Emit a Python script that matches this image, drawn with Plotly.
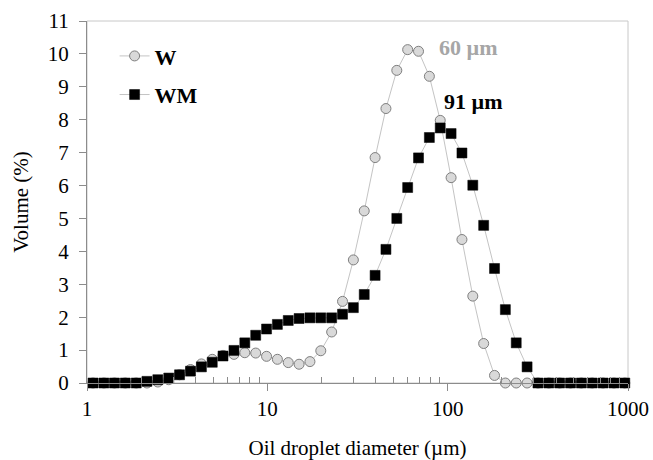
import plotly.graph_objects as go

# Droplet size classes (µm)
diameter = [1.08, 1.24, 1.42, 1.63, 1.875, 2.15, 2.47, 2.84, 3.26, 3.75,
            4.31, 4.95, 5.68, 6.53, 7.5, 8.62, 9.90, 11.37, 13.06, 15.0,
            17.23, 19.79, 22.74, 26.12, 30.0, 34.46, 39.59, 45.47, 52.23, 60.0,
            68.92, 79.17, 90.94, 104.47, 120.0, 137.84, 158.34, 181.89, 208.93, 240.0,
            275.69, 316.68, 363.77, 417.87, 480.0, 551.37, 633.36, 727.54, 835.74, 960.0]

vol_W = [0, 0, 0, 0, 0, 0, 0.03, 0.1, 0.25, 0.41,
         0.58, 0.72, 0.84, 0.87, 0.92, 0.91, 0.81, 0.72, 0.62, 0.57,
         0.65, 0.98, 1.55, 2.48, 3.74, 5.23, 6.85, 8.34, 9.50, 10.13,
         10.08, 9.32, 7.98, 6.24, 4.36, 2.64, 1.20, 0.23, 0, 0,
         0, 0, 0, 0, 0, 0, 0, 0, 0, 0]

vol_WM = [0, 0, 0, 0, 0, 0.05, 0.1, 0.15, 0.25, 0.36,
          0.49, 0.63, 0.82, 0.99, 1.22, 1.45, 1.64, 1.78, 1.90, 1.96,
          1.98, 1.98, 1.98, 2.09, 2.29, 2.69, 3.27, 4.06, 5.00, 5.94,
          6.84, 7.46, 7.75, 7.58, 6.99, 6.01, 4.79, 3.48, 2.23, 1.22,
          0.49, 0, 0, 0, 0, 0, 0, 0, 0, 0]

x_ticks = [1, 10, 100, 1000]
x_minor = [m * d for d in (1, 10, 100) for m in range(2, 10)]
y_ticks = list(range(0, 12))

FONT = "Liberation Serif, Times New Roman, serif"
AXC = "#8c8c8c"

fig = go.Figure()
fig.add_trace(go.Scatter(
    x=diameter, y=vol_W, mode="lines+markers", name="W", legendgroup="W",
    line=dict(color="#c4c4c4", width=1),
    marker=dict(symbol="circle", size=10, color="#d9d9d9",
                line=dict(color="#7f7f7f", width=1)),
    cliponaxis=False))
fig.add_trace(go.Scatter(
    x=diameter, y=vol_WM, mode="lines+markers", name="WM", legendgroup="WM",
    line=dict(color="#c4c4c4", width=1),
    marker=dict(symbol="square", size=10, color="#000000",
                line=dict(color="#000000", width=0.5)),
    cliponaxis=False))

fig.add_annotation(x=1.94, y=10.2, xref="x", yref="y", text="<b>60 µm</b>",
                   showarrow=False, xanchor="left", yanchor="middle",
                   font=dict(family=FONT, size=22, color="#a6a6a6"))
fig.add_annotation(x=1.97, y=8.55, xref="x", yref="y", text="<b>91 µm</b>",
                   showarrow=False, xanchor="left", yanchor="middle",
                   font=dict(family=FONT, size=22, color="#000000"))

# plot frame (top/right lighter)
fig.add_shape(type="rect", xref="paper", yref="paper", x0=0, y0=0, x1=1, y1=1,
              line=dict(color="#c8c8c8", width=1), layer="below")

fig.update_layout(
    width=653, height=460,
    margin=dict(l=87, r=25, t=21, b=77),
    paper_bgcolor="white", plot_bgcolor="white",
    font=dict(family=FONT, size=21, color="#000000"),
    showlegend=True,
    legend=dict(x=0.051, y=0.961, xanchor="left", yanchor="top",
                bgcolor="rgba(0,0,0,0)", traceorder="grouped",
                tracegroupgap=7, itemwidth=30,
                font=dict(family=FONT, size=22, color="#000000", weight="bold")),
)

fig.update_xaxes(
    type="log", range=[0, 3], tickvals=x_ticks, ticktext=[str(v) for v in x_ticks],
    ticks="outside", ticklen=7, tickcolor=AXC, tickwidth=1, automargin=False,
    showline=True, linecolor=AXC, linewidth=1, showgrid=False, zeroline=False,
    minor=dict(tickvals=x_minor, ticks="inside", ticklen=6, tickcolor=AXC, showgrid=False),
    tickfont=dict(family=FONT, size=21),
    title=dict(text="Oil droplet diameter (µm)", font=dict(family=FONT, size=21), standoff=20),
)
fig.update_yaxes(
    range=[0, 11], tickvals=y_ticks, automargin=False,
    ticks="outside", ticklen=7, tickcolor=AXC, tickwidth=1, ticklabelstandoff=6,
    showline=True, linecolor=AXC, linewidth=1, showgrid=False, zeroline=False,
    tickfont=dict(family=FONT, size=21),
    title=dict(text="Volume (%)", font=dict(family=FONT, size=21), standoff=13),
)

fig.write_html("out.html")
